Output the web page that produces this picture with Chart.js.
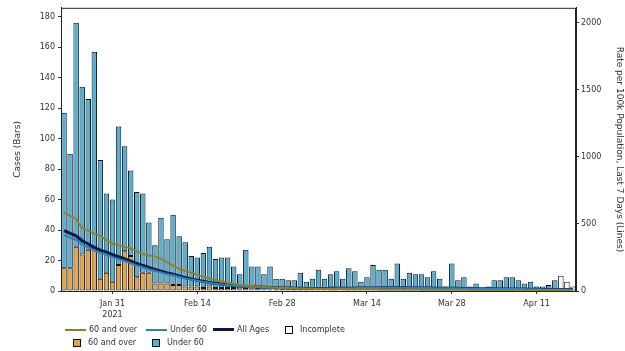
<!DOCTYPE html>
<html>
<head>
<meta charset="utf-8">
<script src="https://cdn.jsdelivr.net/npm/chart.js@4"></script>
<style>
  body { margin: 0; background: #fff; }
  #wrap { position: relative; width: 625px; height: 351px; }
  #legend { position: absolute; left: 0; top: 0; width: 625px; height: 351px; pointer-events: none;
            font-family: "DejaVu Sans", sans-serif; font-size: 8px; color: #333; }
  .item { position: absolute; display: flex; align-items: center; white-space: nowrap; }
  .ln { display: inline-block; width: 21px; height: 0; margin-right: 3px; }
  .sq { display: inline-block; width: 8px; height: 8px; border: 1px solid #111; margin-right: 7px; box-sizing: border-box; }
</style>
</head>
<body>
<div id="wrap">
  <canvas id="chart" width="625" height="351"></canvas>
  <div id="legend">
    <div class="item" style="left:65px; top:325px"><span class="ln" style="border-top:2px solid #8f8030"></span>60 and over</div>
    <div class="item" style="left:146px; top:325px"><span class="ln" style="border-top:2px solid #2c7fb8"></span>Under 60</div>
    <div class="item" style="left:213px; top:325px"><span class="ln" style="border-top:3px solid #0a1a4a"></span>All Ages</div>
    <div class="item" style="left:285px; top:325px"><span class="sq" style="background:#fff"></span>Incomplete</div>
    <div class="item" style="left:73px; top:338px"><span class="sq" style="background:#e2a44d"></span>60 and over</div>
    <div class="item" style="left:152px; top:338px"><span class="sq" style="background:#56b0d4"></span>Under 60</div>
  </div>
</div>
<script>
// Dias (categorias)
const days = [
  'Jan 23','Jan 24','Jan 25','Jan 26','Jan 27','Jan 28','Jan 29','Jan 30','Jan 31',
  'Feb 1','Feb 2','Feb 3','Feb 4','Feb 5','Feb 6','Feb 7','Feb 8','Feb 9','Feb 10','Feb 11','Feb 12','Feb 13','Feb 14',
  'Feb 15','Feb 16','Feb 17','Feb 18','Feb 19','Feb 20','Feb 21','Feb 22','Feb 23','Feb 24','Feb 25','Feb 26','Feb 27','Feb 28',
  'Mar 1','Mar 2','Mar 3','Mar 4','Mar 5','Mar 6','Mar 7','Mar 8','Mar 9','Mar 10','Mar 11','Mar 12','Mar 13','Mar 14',
  'Mar 15','Mar 16','Mar 17','Mar 18','Mar 19','Mar 20','Mar 21','Mar 22','Mar 23','Mar 24','Mar 25','Mar 26','Mar 27','Mar 28',
  'Mar 29','Mar 30','Mar 31','Apr 1','Apr 2','Apr 3','Apr 4','Apr 5','Apr 6','Apr 7','Apr 8','Apr 9','Apr 10','Apr 11',
  'Apr 12','Apr 13','Apr 14','Apr 15','Apr 16','Apr 17'
];
const tickLabels = ['Jan 31', 'Feb 14', 'Feb 28', 'Mar 14', 'Mar 28', 'Apr 11'];
const yearLabel = '2021';
const caseTicks = [0, 20, 40, 60, 80, 100, 120, 140, 160, 180];
const rateTicks = [0, 500, 1000, 1500, 2000];

// Casos (barras)
const casesOver60 = [
  15, 15, 29, 24, 27, 28, 8, 12, 6, 17,
  26, 23, 9, 12, 12, 5, 5, 5, 4, 4,
  3, 3, 3, 2, 3, 2, 2, 2, 2, 1,
  2, 1, 2, 1, 1, 1, 1, 1, 0, 1,
  1, 0, 1, 1, 0, 1, 0, 1, 1, 0,
  1, 1, 0, 1, 0, 1, 1, 0, 1, 0,
  1, 0, 1, 0, 1, 0, 1, 0, 0, 0,
  0, 1, 0, 1, 0, 0, 1, 0, 0, 0,
  0, 1, 0, 0, 0
];
const casesUnder60 = [
  102, 75, 147, 110, 99, 129, 78, 52, 54, 91,
  69, 56, 56, 52, 33, 25, 43, 29, 46, 32,
  29, 20, 19, 23, 26, 19, 20, 20, 14, 10,
  25, 15, 14, 10, 15, 7, 7, 6, 7, 11,
  5, 8, 13, 7, 11, 12, 8, 14, 12, 6,
  8, 16, 14, 13, 8, 17, 7, 12, 10, 11,
  8, 13, 7, 3, 17, 7, 8, 3, 5, 2,
  3, 6, 7, 8, 9, 7, 4, 6, 3, 3,
  4, 6, 0, 0, 0
];
const casesIncomplete = [
  0, 0, 0, 0, 0, 0, 0, 0, 0, 0,
  0, 0, 0, 0, 0, 0, 0, 0, 0, 0,
  0, 0, 0, 0, 0, 0, 0, 0, 0, 0,
  0, 0, 0, 0, 0, 0, 0, 0, 0, 0,
  0, 0, 0, 0, 0, 0, 0, 0, 0, 0,
  0, 0, 0, 0, 0, 0, 0, 0, 0, 0,
  0, 0, 0, 0, 0, 0, 0, 0, 0, 0,
  0, 0, 0, 0, 0, 0, 0, 0, 0, 0,
  0, 0, 10, 6, 3
];

// Taxa por 100k, ultimos 7 dias (linhas)
const rateOver60 = [
  585, 560, 535, 470, 450, 428, 410, 380, 354, 342,
  330, 317, 295, 275, 265, 258, 240, 215, 190, 165,
  150, 135, 120, 106, 93, 82, 72, 62, 54, 46,
  41, 37, 33, 30, 28, 26, 24, 22, 20, 18,
  17, 16, 15, 15, 14, 14, 14, 13, 13, 13,
  13, 13, 12, 12, 12, 12, 11, 11, 11, 10,
  10, 10, 10, 9, 9, 9, 9, 8, 8, 8,
  8, 8, 7, 7, 7, 7, 7, 6, 6, 6,
  6, 6, 6, 6, 6
];
const rateUnder60 = [
  415, 398, 380, 348, 325, 302, 284, 270, 252, 238,
  224, 207, 191, 177, 163, 149, 138, 126, 117, 105,
  94, 85, 76, 68, 61, 54, 49, 44, 39, 35,
  32, 30, 28, 27, 25, 24, 22, 21, 20, 19,
  18, 18, 18, 19, 19, 20, 20, 21, 21, 22,
  22, 23, 23, 24, 24, 24, 24, 23, 23, 22,
  22, 21, 21, 20, 20, 20, 19, 19, 18, 17,
  16, 16, 15, 15, 15, 14, 14, 13, 13, 12,
  12, 12, 12, 11, 11
];
const rateAllAges = [
  450, 430, 410, 375, 350, 325, 305, 290, 270, 255,
  240, 222, 205, 190, 175, 160, 148, 135, 125, 112,
  100, 90, 80, 72, 64, 57, 51, 46, 41, 37,
  34, 32, 30, 28, 26, 25, 23, 22, 21, 20,
  19, 19, 19, 19, 20, 20, 21, 21, 21, 22,
  22, 23, 23, 24, 24, 24, 24, 23, 23, 22,
  22, 21, 21, 20, 20, 20, 19, 19, 18, 17,
  16, 16, 15, 15, 15, 14, 14, 13, 13, 12,
  12, 12, 12, 11, 11
];

const font = { family: 'DejaVu Sans', size: 8 };
const barBorder = c => (c.raw ? 1 : 0);

// Moldura do grafico
const frame = {
  id: 'frame',
  afterDraw(chart) {
    const { ctx, chartArea: a } = chart;
    ctx.save();
    ctx.strokeStyle = '#222';
    ctx.lineWidth = 1;
    ctx.strokeRect(a.left + 0.5, a.top + 0.5, a.width - 1, a.height);
    ctx.restore();
  }
};

new Chart(document.getElementById('chart'), {
  data: {
    labels: days,
    datasets: [
      { type: 'line', label: '60 and over', data: rateOver60, yAxisID: 'y1', borderColor: '#8f8030', borderWidth: 2, pointRadius: 0, tension: 0.3, order: 0 },
      { type: 'line', label: 'Under 60', data: rateUnder60, yAxisID: 'y1', borderColor: '#2c7fb8', borderWidth: 2, pointRadius: 0, tension: 0.3, order: 0 },
      { type: 'line', label: 'All Ages', data: rateAllAges, yAxisID: 'y1', borderColor: '#0a1a4a', borderWidth: 3, pointRadius: 0, tension: 0.3, order: 0 },
      { type: 'bar', label: '60 and over', data: casesOver60, yAxisID: 'y', backgroundColor: '#e2a44d', borderColor: '#111', borderWidth: barBorder, borderSkipped: false, barPercentage: 0.9, categoryPercentage: 1, order: 1 },
      { type: 'bar', label: 'Under 60', data: casesUnder60, yAxisID: 'y', backgroundColor: '#56b0d4', borderColor: '#111', borderWidth: barBorder, borderSkipped: false, barPercentage: 0.9, categoryPercentage: 1, order: 1 },
      { type: 'bar', label: 'Incomplete', data: casesIncomplete, yAxisID: 'y', backgroundColor: '#ffffff', borderColor: '#111', borderWidth: barBorder, borderSkipped: false, barPercentage: 0.9, categoryPercentage: 1, order: 1 }
    ]
  },
  options: {
    responsive: false,
    animation: false,
    layout: { padding: { top: 5, bottom: 0, left: 0, right: 0 } },
    plugins: { legend: { display: false }, tooltip: { enabled: false } },
    scales: {
      x: {
        stacked: true,
        offset: true,
        afterFit: s => { s.height = 60; },
        grid: {
          offset: false,
          drawOnChartArea: false,
          tickLength: 3,
          color: c => (tickLabels.includes(days[c.index]) ? '#333' : 'rgba(0,0,0,0)')
        },
        border: { display: true, color: '#222' },
        ticks: {
          autoSkip: false,
          maxRotation: 0,
          padding: 4,
          color: '#333',
          font: { family: 'DejaVu Sans', size: 8, lineHeight: 1.4 },
          callback: (v, i) => {
            const d = days[i];
            if (!tickLabels.includes(d)) return '';
            return d === 'Jan 31' ? [d, yearLabel] : d;
          }
        }
      },
      y: {
        position: 'left',
        stacked: true,
        min: 0,
        max: 185.8,
        afterFit: s => { s.width = 61; },
        afterBuildTicks: s => { s.ticks = caseTicks.map(v => ({ value: v })); },
        grid: { drawOnChartArea: false, tickLength: 3, color: '#333' },
        border: { display: true, color: '#222' },
        ticks: { padding: 3, color: '#333', font: font, callback: v => String(v) },
        title: { display: true, text: 'Cases (Bars)', color: '#333', font: { family: 'DejaVu Sans', size: 9 }, padding: { top: 12, bottom: 0 } }
      },
      y1: {
        position: 'right',
        stacked: false,
        min: 0,
        max: 2110,
        afterFit: s => { s.width = 49; },
        afterBuildTicks: s => { s.ticks = rateTicks.map(v => ({ value: v })); },
        grid: { drawOnChartArea: false, tickLength: 3, color: '#333' },
        border: { display: true, color: '#222' },
        ticks: { padding: 2, color: '#333', font: font, callback: v => String(v) },
        title: { display: true, text: 'Rate per 100k Population, Last 7 Days (Lines)', color: '#333', font: { family: 'DejaVu Sans', size: 9 }, padding: { top: 0, bottom: 0 } }
      }
    }
  },
  plugins: [frame]
});
</script>
</body>
</html>
